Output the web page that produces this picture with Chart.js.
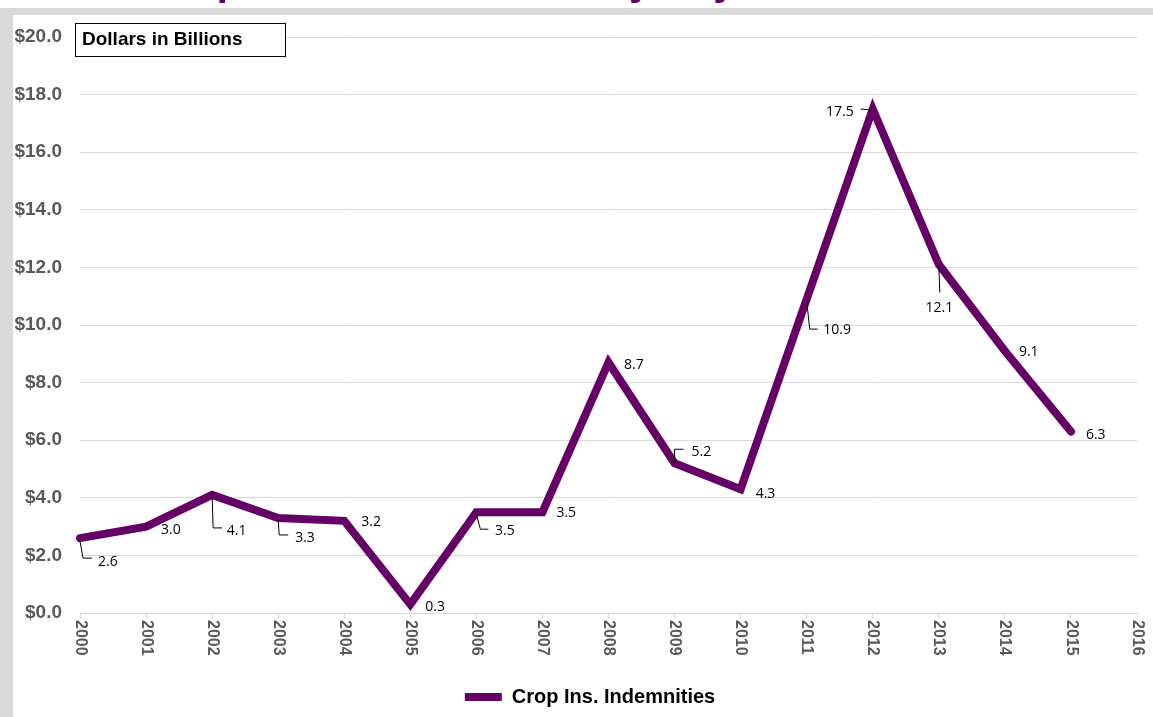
<!DOCTYPE html>
<html>
<head>
<meta charset="utf-8">
<title>Crop Insurance Indemnity Payments</title>
<script src="https://cdn.jsdelivr.net/npm/chart.js@4.4.0/dist/chart.umd.min.js"></script>
<style>
  html, body { margin: 0; padding: 0; background: #fff; overflow: hidden; }
  #wrap { width: 1153px; height: 717px; }
</style>
</head>
<body>
<div id="wrap"><canvas id="indemnityChart" width="1153" height="717"></canvas></div>
<script>
// Crop insurance indemnities, billions of dollars
const years = ['2000', '2001', '2002', '2003', '2004', '2005', '2006', '2007',
               '2008', '2009', '2010', '2011', '2012', '2013', '2014', '2015', '2016'];
const indemnities = [2.6, 3.0, 4.1, 3.3, 3.2, 0.3, 3.5, 3.5, 8.7, 5.2, 4.3, 10.9, 17.5, 12.1, 9.1, 6.3];
const seriesName = 'Crop Ins. Indemnities';
const chartTitle = 'Crop Insurance Indemnity Payments';
const unitNote = 'Dollars in Billions';

const PURPLE = '#660066';
const GREY_TEXT = '#595959';
const GRID = '#d9d9d9';

// where each value label sits relative to its point, with an optional leader line
const labelSpots = [
    { dx: 18, dy: 23.5, leader: [[0, 3], [3, 20], [12, 20]] },
    { dx: 15, dy: 3.5 },
    { dx: 14.6, dy: 35.8, leader: [[0, 2], [1, 33], [10, 33]] },
    { dx: 17, dy: 20, leader: [[0, 2], [1, 17], [10, 17]] },
    { dx: 17, dy: 1 },
    { dx: 15, dy: 3 },
    { dx: 18.6, dy: 19, leader: [[0, 2], [4, 17], [12, 17]] },
    { dx: 14, dy: 0.5 },
    { dx: 15.5, dy: 3 },
    { dx: 17, dy: -11, leader: [[0, 0], [0, -14], [9, -14]] },
    { dx: 15, dy: 5 },
    { dx: 16.5, dy: 31, leader: [[0, 2], [3, 30], [11, 30]] },
    { dx: -19, dy: 2.7, align: 'right', leader: [[-12, 0], [-1, 1]] },
    { dx: 0.5, dy: 43, align: 'center', leader: [[0, 1], [1, 28]] },
    { dx: 14, dy: 1 },
    { dx: 15, dy: 3 }
];

// Title (runs off the top) and the grey frame behind the plot
const framePlugin = {
    id: 'frame',
    beforeDraw(chart) {
        const ctx = chart.ctx;
        ctx.save();
        ctx.fillStyle = '#fff';
        ctx.fillRect(0, 0, chart.width, chart.height);
        ctx.font = 'bold 41px "Liberation Sans", Arial, sans-serif';
        ctx.fillStyle = PURPLE;
        ctx.textBaseline = 'alphabetic';
        ctx.textAlign = 'left';
        ctx.fillText(chartTitle, 146, -5);
        ctx.fillStyle = GRID;
        ctx.fillRect(0, 8, chart.width, 7);
        ctx.fillRect(0, 8, 13, chart.height);
        ctx.restore();
    },
    // the legend sits a little right of the canvas centre
    afterLayout(chart) {
        chart.legend.left += 15;
        chart.legend.right += 15;
    }
};

// Year labels turned clockwise under each tick
const yearLabelsPlugin = {
    id: 'yearLabels',
    afterDraw(chart) {
        const x = chart.scales.x;
        const ctx = chart.ctx;
        ctx.save();
        ctx.font = 'bold 16px "Liberation Sans", Arial, sans-serif';
        ctx.fillStyle = GREY_TEXT;
        ctx.textAlign = 'left';
        ctx.textBaseline = 'middle';
        x.ticks.forEach((t, i) => {
            const px = x.getPixelForTick(i);
            ctx.save();
            ctx.translate(px, x.top + 7);
            ctx.rotate(Math.PI / 2);
            ctx.fillText(x.getLabelForValue(t.value), 0, 0);
            ctx.restore();
        });
        ctx.restore();
    }
};

// Value labels with leader lines, plus the units box
const valueLabelsPlugin = {
    id: 'valueLabels',
    afterDraw(chart) {
        const ctx = chart.ctx;
        const meta = chart.getDatasetMeta(0);
        ctx.save();
        ctx.font = '14px "Open Sans", "Noto Sans", sans-serif';
        ctx.fillStyle = '#000';
        ctx.strokeStyle = '#000';
        ctx.lineWidth = 1;
        ctx.textBaseline = 'middle';
        meta.data.forEach((pt, i) => {
            const spot = labelSpots[i];
            if (spot.leader) {
                ctx.beginPath();
                spot.leader.forEach(([lx, ly], k) => {
                    if (k === 0) ctx.moveTo(pt.x + lx, pt.y + ly);
                    else ctx.lineTo(pt.x + lx, pt.y + ly);
                });
                ctx.stroke();
            }
            ctx.textAlign = spot.align || 'left';
            ctx.fillText(indemnities[i].toFixed(1), pt.x + spot.dx, pt.y + spot.dy);
        });

        ctx.fillStyle = '#fff';
        ctx.fillRect(75, 23, 210, 33);
        ctx.strokeRect(75.5, 23.5, 210, 33);
        ctx.fillStyle = '#000';
        ctx.textAlign = 'left';
        ctx.font = 'bold 19px "Liberation Sans", Arial, sans-serif';
        ctx.fillText(unitNote, 82, 40);
        ctx.restore();
    }
};

const ctx = document.getElementById('indemnityChart');
new Chart(ctx, {
    type: 'line',
    data: {
        labels: years,
        datasets: [{
            label: seriesName,
            data: indemnities,
            borderColor: PURPLE,
            backgroundColor: PURPLE,
            borderWidth: 8,
            borderJoinStyle: 'miter',
            borderCapStyle: 'round',
            pointRadius: 0,
            tension: 0,
            fill: false
        }]
    },
    options: {
        responsive: false,
        devicePixelRatio: 1,
        animation: false,
        layout: { padding: { left: 13, right: 16, top: 37, bottom: 0 } },
        plugins: {
            title: { display: false },
            tooltip: { enabled: false },
            legend: {
                position: 'bottom',
                labels: {
                    boxWidth: 37,
                    boxHeight: 8,
                    padding: 10,
                    useBorderRadius: true,
                    borderRadius: 4,
                    color: '#000',
                    font: { family: '"Liberation Sans", Arial, sans-serif', size: 20, weight: 'bold' },
                    generateLabels: () => [{
                        text: seriesName,
                        fillStyle: PURPLE,
                        strokeStyle: PURPLE,
                        lineWidth: 0,
                        fontColor: '#000',
                        datasetIndex: 0,
                        hidden: false
                    }]
                }
            }
        },
        scales: {
            x: {
                offset: false,
                grid: { drawOnChartArea: false, drawTicks: true, tickLength: 6, color: GRID },
                border: { display: true, color: GRID },
                ticks: { display: false },
                afterFit: scale => { scale.height = 64; }
            },
            y: {
                min: 0,
                max: 20,
                grid: { color: GRID, drawTicks: false },
                border: { display: false },
                ticks: {
                    stepSize: 2,
                    padding: 18,
                    color: GREY_TEXT,
                    font: { family: '"Liberation Sans", Arial, sans-serif', size: 19, weight: 'bold' },
                    callback: v => '$' + Number(v).toFixed(1)
                },
                afterFit: scale => { scale.width = 67; }
            }
        }
    },
    plugins: [framePlugin, yearLabelsPlugin, valueLabelsPlugin]
});
</script>
</body>
</html>
